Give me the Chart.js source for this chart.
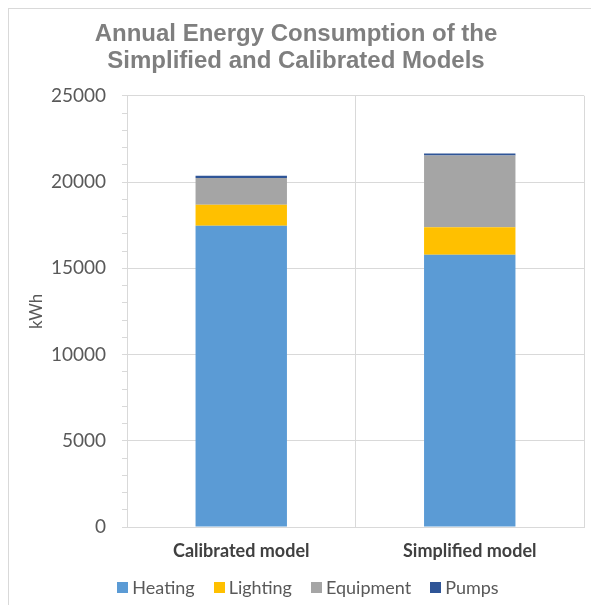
<!DOCTYPE html>
<html>
<head>
<meta charset="utf-8">
<script src="https://cdn.jsdelivr.net/npm/chart.js@4/dist/chart.umd.min.js"></script>
<style>
  html, body { margin: 0; padding: 0; background: #ffffff; overflow: hidden; }
  #wrap { position: relative; width: 591px; height: 605px; }
  #frame { position: absolute; left: 8px; top: 8px; width: 640px; height: 640px;
           border: 1px solid #d9d9d9; box-sizing: border-box; }
  canvas { position: absolute; left: 0; top: 0; }
</style>
</head>
<body>
<div id="wrap">
  <div id="frame"></div>
  <canvas id="chart" width="591" height="605"></canvas>
</div>
<script>
// Model variants on the x axis
const categories = ['Calibrated model', 'Simplified model'];

// Annual consumption per end use, kWh
const heating   = [17460, 15780];
const lighting  = [1220, 1600];
const equipment = [1550, 4150];
const pumps     = [130, 120];

// Axis range and labelled ticks
const yMax = 25000;
const yLabelStep = 5000;
const yMinorStep = 1000;

const seriesNames  = ['Heating', 'Lighting', 'Equipment', 'Pumps'];
const seriesColors = ['#5B9BD5', '#FFC000', '#A5A5A5', '#2F5597'];
const seriesValues = [heating, lighting, equipment, pumps];

// Compact key under the axis: square swatch followed closely by its label
const bottomKey = {
  id: 'bottomKey',
  afterDraw(chart, args, opts) {
    const ctx = chart.ctx;
    ctx.save();
    ctx.font = opts.font;
    const items = chart.data.datasets.map(ds => ({
      text: ds.label,
      color: ds.backgroundColor,
      w: ctx.measureText(ds.label).width
    }));
    const total = items.reduce((s, it) => s + opts.box + opts.gap + it.w, 0) +
                  opts.spacing * (items.length - 1);
    let x = opts.centerX - total / 2;
    const y = opts.y;
    ctx.textBaseline = 'middle';
    ctx.textAlign = 'left';
    items.forEach(it => {
      ctx.fillStyle = it.color;
      ctx.fillRect(Math.round(x), Math.round(y - opts.box / 2), opts.box, opts.box);
      ctx.fillStyle = opts.color;
      ctx.fillText(it.text, x + opts.box + opts.gap, y + 1);
      x += opts.box + opts.gap + it.w + opts.spacing;
    });
    ctx.restore();
  }
};

new Chart(document.getElementById('chart'), {
  type: 'bar',
  data: {
    labels: categories,
    datasets: seriesNames.map((name, i) => ({
      label: name,
      data: seriesValues[i],
      backgroundColor: seriesColors[i],
      borderWidth: 0,
      categoryPercentage: 1.0,
      barPercentage: 0.4
    }))
  },
  options: {
    responsive: false,
    animation: false,
    devicePixelRatio: 1,
    layout: { padding: { left: 8, right: 7, top: 0, bottom: 40 } },
    plugins: {
      legend: { display: false },
      tooltip: { enabled: false },
      title: {
        display: true,
        text: ['Annual Energy Consumption of the', 'Simplified and Calibrated Models'],
        color: '#7F7F7F',
        font: { family: '"Liberation Sans", Arial, sans-serif', size: 24, weight: 'bold', lineHeight: 1.12 },
        padding: { top: 21, bottom: 21 }
      },
      bottomKey: {
        font: '18px Lato, "Open Sans", sans-serif',
        color: '#595959',
        box: 11,
        gap: 4,
        spacing: 19,
        centerX: 308,
        y: 587
      }
    },
    scales: {
      x: {
        stacked: true,
        offset: true,
        grid: { display: true, color: '#D9D9D9', drawTicks: false, offset: true },
        border: { display: true, color: '#D9D9D9' },
        ticks: {
          color: '#404040',
          padding: 13,
          font: { family: 'Lato, "Open Sans", sans-serif', size: 18, weight: 'bold' }
        },
        afterFit(scale) { scale.height = 38; }
      },
      y: {
        stacked: true,
        min: 0,
        max: yMax,
        grid: {
          color: ctx => (ctx.tick && ctx.tick.value % yLabelStep === 0) ? '#D9D9D9' : 'rgba(0,0,0,0)',
          tickColor: '#D9D9D9',
          tickLength: 5,
          drawTicks: true
        },
        border: { display: true, color: '#D9D9D9' },
        ticks: {
          stepSize: yMinorStep,
          autoSkip: false,
          color: '#595959',
          padding: 16,
          font: { family: 'Lato, "Open Sans", sans-serif', size: 19 },
          callback: v => (v % yLabelStep === 0 ? String(v) : '')
        },
        title: {
          display: true,
          text: 'kWh',
          color: '#595959',
          font: { family: 'Lato, "Open Sans", sans-serif', size: 17 },
          padding: { top: 18, bottom: 0 }
        },
        afterFit(scale) { scale.width = 119; }
      }
    }
  },
  plugins: [bottomKey]
});
</script>
</body>
</html>
